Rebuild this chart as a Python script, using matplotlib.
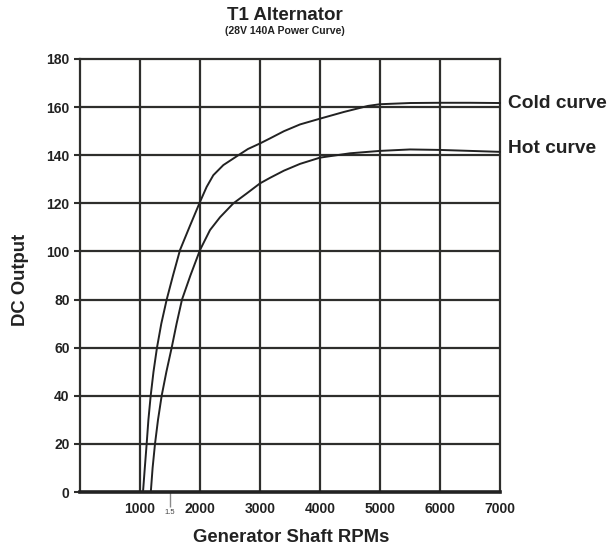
import matplotlib
matplotlib.use("Agg")
import matplotlib.pyplot as plt

plt.rcParams['font.family'] = ['Liberation Sans', 'DejaVu Sans']

# Data
cold_rpm = [1050, 1080, 1111, 1140, 1178, 1225, 1283, 1355, 1445, 1550, 1667, 1830, 2000,
            2110, 2222, 2389, 2639, 2800, 3000, 3167, 3400, 3667, 4000, 4400, 4800, 5000, 5500,
            6000, 6500, 7000]
cold_out = [0, 10, 20, 30, 40, 50, 60, 70, 80, 90, 100.6, 110.5, 120.6,
            126.8, 131.7, 135.9, 140, 142.6, 144.9, 147, 150, 152.8, 155.2, 158, 160.5, 161.2, 161.7,
            161.8, 161.8, 161.7]
hot_rpm = [1180, 1210, 1250, 1300, 1361, 1440, 1528, 1610, 1700, 1840, 2000, 2167, 2333,
           2556, 2778, 3000, 3167, 3400, 3667, 4000, 4500, 5000, 5500, 6000, 6500, 7000]
hot_out = [0, 10, 20, 30, 40, 50, 60, 70, 80, 90, 100.6, 108.9, 114.2,
           120, 124.1, 128.3, 130.6, 133.6, 136.4, 139, 140.8, 141.8, 142.4, 142.2, 141.8, 141.4]

x_ticks = [1000, 2000, 3000, 4000, 5000, 6000, 7000]
x_tick_labels = ['1000', '2000', '3000', '4000', '5000', '6000', '7000']
y_ticks = [0, 20, 40, 60, 80, 100, 120, 140, 160, 180]
series_labels = ['Cold curve', 'Hot curve']
title = 'T1 Alternator'
subtitle = '(28V 140A Power Curve)'
xlabel = 'Generator Shaft RPMs'
ylabel = 'DC Output'

W, H = 610, 548
fig = plt.figure(figsize=(W / 100, H / 100), dpi=100)
ax = fig.add_axes([80 / W, 1 - 492 / H, 420 / W, (492 - 59) / H])

grid_c = '#2e2e2c'
ax.set_xlim(0, 7000)
ax.set_ylim(0, 180)

ax.set_xticks(x_ticks)
ax.set_xticklabels(x_tick_labels, fontsize=10, fontweight='bold', color='#222222')
ax.tick_params(axis='x', which='major', length=0, pad=7.5)
ax.set_xticks([1500], minor=True)
ax.set_xticklabels(['1.5'], minor=True, fontsize=5.5, color='#444444')
ax.tick_params(axis='x', which='minor', length=11, width=1, color='#8a8a8a', pad=1.5)

ax.set_yticks(y_ticks)
ax.set_yticklabels([str(v) for v in y_ticks], fontsize=10, fontweight='bold', color='#222222')
ax.tick_params(axis='y', which='major', length=4, width=1.5, color=grid_c, pad=3.5)

for v in x_ticks[:-1]:
    ax.axvline(v, color=grid_c, lw=1.6, zorder=1)
for v in y_ticks[1:-1]:
    ax.axhline(v, color=grid_c, lw=1.6, zorder=1)

for s in ['left', 'top', 'right']:
    ax.spines[s].set_color(grid_c)
    ax.spines[s].set_linewidth(1.6)
ax.spines['bottom'].set_color('#222222')
ax.spines['bottom'].set_linewidth(2.6)

ax.plot(cold_rpm, cold_out, color='#222222', lw=1.4, zorder=3, clip_on=False,
        solid_joinstyle='round')
ax.plot(hot_rpm, hot_out, color='#222222', lw=1.4, zorder=3, clip_on=False,
        solid_joinstyle='round')

ax.text(7130, cold_out[-1], series_labels[0], fontsize=13.8, fontweight='bold',
        color='#222222', va='center', ha='left', clip_on=False)
ax.text(7130, hot_out[-1] + 1.5, series_labels[1], fontsize=13.8, fontweight='bold',
        color='#222222', va='center', ha='left', clip_on=False)

fig.text(285 / W, 1 - 15 / H, title, fontsize=13.5, fontweight='bold', color='#222222',
         ha='center', va='center')
fig.text(285 / W, 1 - 31 / H, subtitle, fontsize=7.6, fontweight='bold', color='#222222',
         ha='center', va='center')
fig.text(291 / W, 1 - 537 / H, xlabel, fontsize=13.3, fontweight='bold', color='#222222',
         ha='center', va='center')
fig.text(21 / W, 1 - 280 / H, ylabel, fontsize=13.3, fontweight='bold', color='#222222',
         ha='center', va='center', rotation=90)

fig.savefig('out.png', dpi=100)
